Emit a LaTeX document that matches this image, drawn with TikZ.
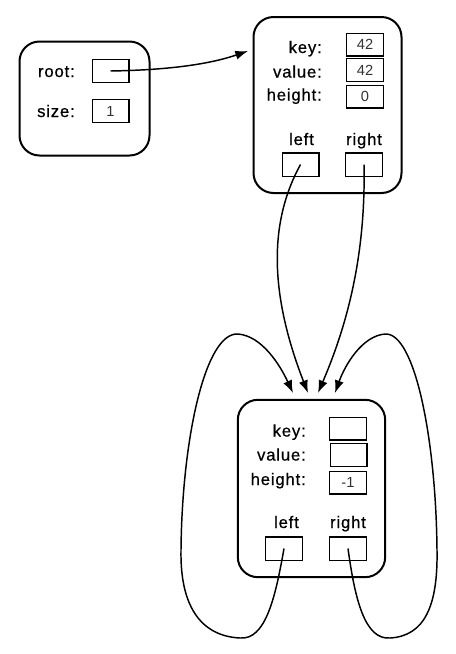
\documentclass[tikz,border=0pt]{standalone}
\usepackage{fontspec}
\setmainfont{Liberation Sans}
\newfontfamily\lblfont[LetterSpace=5,FakeBold=0.6]{Liberation Sans}
\usetikzlibrary{arrows.meta}
\begin{document}
\begin{tikzpicture}[x=0.75pt,y=-0.75pt,
  container/.style={draw,line width=1.5pt,rounded corners=15pt,inner sep=0pt},
  field/.style={draw,line width=1pt,minimum width=27.5pt,minimum height=17pt,inner sep=0pt,
    font=\fontsize{11}{12}\selectfont,text=black!80},
  lbl/.style={font=\lblfont\fontsize{12.5}{14}\selectfont,inner sep=0pt},
  ptr/.style={line width=1.1pt,-{Latex[length=9.5pt,width=7pt]}}]
\useasboundingbox (0,0) rectangle (456,654);

% tree: root and size
\node[container,minimum width=97.5pt,minimum height=85.5pt] (tree) at (84.5,98.5) {};
\node[lbl,anchor=base east] (rootlbl) at (75,77) {root:};
\node[lbl,anchor=base east] (sizelbl) at (75,117) {size:};
\node[field] (rootval) at (110.5,71) {};
\node[field] (sizeval) at (110.5,111) {1};

% node with key 42
\node[container,minimum width=111pt,minimum height=132pt] (nodeA) at (327.5,105) {};
\node[lbl,anchor=base east] (Akeylbl) at (322,53) {key:};
\node[lbl,anchor=base east] (Avallbl) at (322,77.5) {value:};
\node[lbl,anchor=base east] (Ahgtlbl) at (322,100.5) {height:};
\node[field] (Akey) at (365,44.5) {42};
\node[field] (Aval) at (365,70) {42};
\node[field] (Ahgt) at (365,96.5) {0};
\node[lbl,anchor=base] (Aleftlbl) at (301.5,145) {left};
\node[lbl,anchor=base] (Arightlbl) at (364,145) {right};
\node[field,minimum height=17.5pt] (Aleft) at (300.5,164.5) {};
\node[field,minimum height=17.5pt] (Aright) at (364,164.5) {};

% sentinel node
\node[container,minimum width=110.5pt,minimum height=133pt] (nil) at (311.5,488.5) {};
\node[lbl,anchor=base east] (Bkeylbl) at (306,436.5) {key:};
\node[lbl,anchor=base east] (Bvallbl) at (306,460.5) {value:};
\node[lbl,anchor=base east] (Bhgtlbl) at (306,485) {height:};
\node[field] (Bkey) at (348,428.5) {};
\node[field] (Bval) at (348.5,455) {};
\node[field] (Bhgt) at (348,482.5) {-1};
\node[lbl,anchor=base] (Bleftlbl) at (286.5,528) {left};
\node[lbl,anchor=base] (Brightlbl) at (348,528) {right};
\node[field,minimum height=17.5pt] (Bleft) at (284,548.5) {};
\node[field,minimum height=17.5pt] (Bright) at (348,548.5) {};

% arrow tips
\coordinate (inA) at (248,51);
\coordinate (in1) at (293,393);
\coordinate (in2) at (308,393);
\coordinate (in3) at (318,393);
\coordinate (in4) at (335,393);

\draw[ptr] (rootval.center) .. controls (170,70) and (210,64) .. (inA);
\draw[ptr] (Aleft.center) .. controls (270,220) and (268,290) .. (in2);
\draw[ptr] (Aright.center) .. controls (366,260) and (345,330) .. (in3);
\draw[ptr] (Bleft.center) .. controls (275,600) and (265,640) .. (240,638)
  .. controls (200,636) and (180,605) .. (181,550)
  .. controls (182,440) and (205,332) .. (238,334)
  .. controls (262,336) and (280,365) .. (in1);
\draw[ptr] (Bright.center) .. controls (355,600) and (365,640) .. (390,638)
  .. controls (425,636) and (438,605) .. (437,550)
  .. controls (436,440) and (415,332) .. (385,334)
  .. controls (362,336) and (345,365) .. (in4);

\end{tikzpicture}
\end{document}
